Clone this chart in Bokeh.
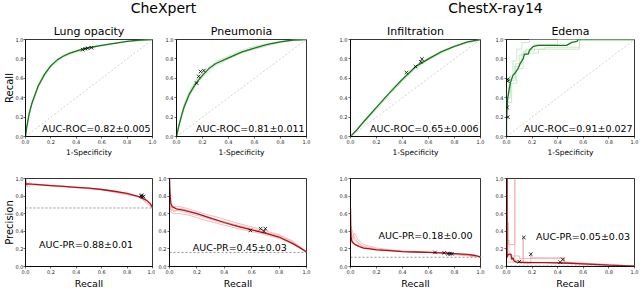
from bokeh.plotting import figure
from bokeh.layouts import column, row
from bokeh.models import Range1d, FixedTicker, PrintfTickFormatter, Slope, Span
from bokeh.core.properties import value
from bokeh.embed import file_html
from bokeh.resources import INLINE

FONT = "DejaVu Sans"

# ---------------- data ----------------
group_titles = ["CheXpert", "ChestX-ray14"]
panel_titles = ["Lung opacity", "Pneumonia", "Infiltration", "Edema"]
roc_labels = ["AUC-ROC=0.82\u00b10.005", "AUC-ROC=0.81\u00b10.011",
              "AUC-ROC=0.65\u00b10.006", "AUC-ROC=0.91\u00b10.027"]
pr_labels = ["AUC-PR=0.88\u00b10.01", "AUC-PR=0.45\u00b10.03",
             "AUC-PR=0.18\u00b10.00", "AUC-PR=0.05\u00b10.03"]
ticks = [0.0, 0.2, 0.4, 0.6, 0.8, 1.0]
prevalence = [0.665, 0.16, 0.105, 0.005]

# Lung opacity ROC
lung_roc_fpr = [0, 0.01, 0.03, 0.05, 0.1, 0.15, 0.2, 0.25, 0.3, 0.35, 0.4, 0.45, 0.5, 0.6, 0.7, 0.8, 0.9, 1.0]
lung_roc_tpr = [0, 0.1, 0.24, 0.34, 0.52, 0.64, 0.73, 0.79, 0.83, 0.86, 0.88, 0.9, 0.915, 0.94, 0.96, 0.98, 0.995, 1.0]
lung_roc_runs_fpr = [[0, 0.01, 0.03, 0.05, 0.1, 0.15, 0.2, 0.3, 0.4, 0.5, 0.6, 0.8, 1.0],
                     [0, 0.01, 0.03, 0.05, 0.1, 0.15, 0.2, 0.3, 0.4, 0.5, 0.6, 0.8, 1.0]]
lung_roc_runs_tpr = [[0, 0.11, 0.25, 0.35, 0.535, 0.655, 0.74, 0.84, 0.89, 0.92, 0.944, 0.982, 1.0],
                     [0, 0.09, 0.23, 0.33, 0.505, 0.625, 0.72, 0.82, 0.872, 0.91, 0.936, 0.977, 1.0]]
lung_roc_mk_fpr = [0.45, 0.47, 0.49, 0.52]
lung_roc_mk_tpr = [0.895, 0.905, 0.91, 0.915]

# Pneumonia ROC
pneu_roc_fpr = [0, 0.01, 0.02, 0.04, 0.06, 0.1, 0.15, 0.2, 0.25, 0.3, 0.4, 0.5, 0.6, 0.7, 0.8, 0.9, 1.0]
pneu_roc_tpr = [0, 0.06, 0.12, 0.22, 0.31, 0.44, 0.55, 0.63, 0.70, 0.75, 0.81, 0.87, 0.91, 0.95, 0.975, 0.995, 1.0]
pneu_roc_runs_fpr = [[0, 0.02, 0.06, 0.1, 0.15, 0.2, 0.3, 0.4, 0.5, 0.6, 0.8, 0.9, 1.0],
                     [0, 0.02, 0.06, 0.1, 0.15, 0.2, 0.3, 0.4, 0.5, 0.6, 0.8, 0.9, 1.0],
                     [0, 0.02, 0.06, 0.1, 0.15, 0.2, 0.3, 0.4, 0.5, 0.6, 0.8, 0.9, 1.0]]
pneu_roc_runs_tpr = [[0, 0.14, 0.34, 0.47, 0.58, 0.66, 0.77, 0.83, 0.89, 0.93, 0.98, 0.995, 1.0],
                     [0, 0.11, 0.29, 0.42, 0.53, 0.61, 0.73, 0.80, 0.86, 0.9, 0.97, 0.99, 1.0],
                     [0, 0.13, 0.32, 0.45, 0.57, 0.64, 0.76, 0.815, 0.875, 0.92, 0.978, 0.995, 1.0]]
pneu_roc_mk_fpr = [0.155, 0.17, 0.185, 0.21]
pneu_roc_mk_tpr = [0.55, 0.62, 0.67, 0.68]

# Infiltration ROC
infl_roc_fpr = [0, 0.05, 0.1, 0.2, 0.3, 0.4, 0.5, 0.6, 0.7, 0.8, 0.9, 1.0]
infl_roc_tpr = [0, 0.07, 0.15, 0.30, 0.45, 0.59, 0.72, 0.80, 0.875, 0.93, 0.975, 1.0]
infl_roc_runs_fpr = [[0, 0.1, 0.2, 0.3, 0.4, 0.5, 0.6, 0.8, 1.0],
                     [0, 0.1, 0.2, 0.3, 0.4, 0.5, 0.6, 0.8, 1.0]]
infl_roc_runs_tpr = [[0, 0.14, 0.28, 0.43, 0.57, 0.70, 0.79, 0.925, 1.0],
                     [0, 0.16, 0.31, 0.46, 0.60, 0.725, 0.81, 0.935, 1.0]]
infl_roc_mk_fpr = [0.43, 0.5, 0.54, 0.55]
infl_roc_mk_tpr = [0.66, 0.72, 0.77, 0.80]

# Edema ROC
edem_roc_fpr = [0, 0, 0.005, 0.01, 0.02, 0.03, 0.05, 0.07, 0.09, 0.11, 0.13, 0.14, 0.17, 0.18, 0.21, 0.25, 0.47, 0.51, 0.55, 0.56, 1.0]
edem_roc_tpr = [0, 0.15, 0.3, 0.4, 0.48, 0.55, 0.63, 0.66, 0.70, 0.76, 0.80, 0.85, 0.85, 0.89, 0.93, 0.94, 0.94, 0.97, 0.98, 1.0, 1.0]
edem_roc_runs_fpr = [[0, 0, 0.02, 0.02, 0.05, 0.05, 0.08, 0.08, 0.12, 0.12, 0.18, 0.18, 1.0],
                     [0, 0, 0.03, 0.03, 0.06, 0.06, 0.1, 0.1, 0.15, 0.15, 0.3, 0.3, 0.57, 0.57, 1.0],
                     [0, 0, 0.04, 0.04, 0.08, 0.08, 0.13, 0.13, 0.22, 0.22, 0.4, 0.4, 1.0],
                     [0, 0, 0.03, 0.03, 0.07, 0.07, 0.12, 0.12, 0.25, 0.25, 0.57, 0.57, 1.0]]
edem_roc_runs_tpr = [[0, 0.5, 0.5, 0.62, 0.62, 0.78, 0.78, 0.9, 0.9, 0.97, 0.97, 1.0, 1.0],
                     [0, 0.45, 0.45, 0.6, 0.6, 0.72, 0.72, 0.84, 0.84, 0.9, 0.9, 0.92, 0.92, 1.0, 1.0],
                     [0, 0.35, 0.35, 0.55, 0.55, 0.7, 0.7, 0.88, 0.88, 0.95, 0.95, 1.0, 1.0],
                     [0, 0.4, 0.4, 0.58, 0.58, 0.75, 0.75, 0.86, 0.86, 0.9, 0.9, 1.0, 1.0]]
edem_roc_mk_fpr = [0.01, 0.01, 0.005, 0.01]
edem_roc_mk_tpr = [0.57, 0.59, 0.30, 0.20]

# Lung opacity PR
lung_pr_rec = [0, 0.003, 0.01, 0.05, 0.1, 0.2, 0.3, 0.4, 0.5, 0.6, 0.7, 0.8, 0.85, 0.9, 0.95, 0.98, 1.0]
lung_pr_prec = [0.99, 0.93, 0.94, 0.935, 0.93, 0.92, 0.91, 0.9, 0.89, 0.875, 0.855, 0.83, 0.81, 0.79, 0.755, 0.72, 0.67]
lung_pr_runs_rec = [[0, 0.01, 0.03, 0.06, 0.1, 0.3, 0.6, 0.9, 1.0],
                    [0, 0.01, 0.02, 0.05, 0.1, 0.3, 0.6, 0.9, 1.0]]
lung_pr_runs_prec = [[0.9, 0.91, 0.95, 0.94, 0.935, 0.913, 0.878, 0.792, 0.67],
                     [0.96, 0.92, 0.9, 0.93, 0.925, 0.905, 0.871, 0.787, 0.665]]
lung_pr_mk_rec = [0.91, 0.92, 0.93, 0.915]
lung_pr_mk_prec = [0.80, 0.79, 0.795, 0.81]

# Pneumonia PR
pneu_pr_rec = [0, 0.002, 0.005, 0.01, 0.02, 0.05, 0.1, 0.2, 0.3, 0.4, 0.5, 0.6, 0.7, 0.8, 0.9, 0.95, 1.0]
pneu_pr_prec = [1.0, 0.9, 0.8, 0.72, 0.68, 0.655, 0.64, 0.6, 0.55, 0.5, 0.455, 0.415, 0.38, 0.335, 0.26, 0.215, 0.165]
pneu_pr_runs_rec = [[0, 0.01, 0.03, 0.08, 0.15, 0.25, 0.35, 0.5, 0.65, 0.8, 0.9, 1.0],
                    [0, 0.01, 0.03, 0.08, 0.15, 0.25, 0.35, 0.5, 0.65, 0.8, 0.9, 1.0],
                    [0, 0.01, 0.03, 0.08, 0.15, 0.25, 0.35, 0.5, 0.65, 0.8, 0.9, 1.0],
                    [0, 0.01, 0.03, 0.08, 0.15, 0.25, 0.35, 0.5, 0.65, 0.8, 0.9, 1.0]]
pneu_pr_runs_prec = [[0.85, 0.7, 0.62, 0.66, 0.63, 0.58, 0.53, 0.47, 0.41, 0.35, 0.28, 0.17],
                     [0.75, 0.62, 0.6, 0.6, 0.58, 0.53, 0.49, 0.43, 0.38, 0.32, 0.26, 0.165],
                     [0.9, 0.66, 0.68, 0.68, 0.65, 0.6, 0.56, 0.49, 0.43, 0.36, 0.29, 0.17],
                     [0.7, 0.64, 0.64, 0.63, 0.6, 0.56, 0.51, 0.45, 0.40, 0.33, 0.27, 0.165]]
pneu_pr_mk_rec = [0.59, 0.665, 0.70, 0.69]
pneu_pr_mk_prec = [0.41, 0.43, 0.43, 0.40]

# Infiltration PR
infl_pr_rec = [0, 0.002, 0.005, 0.01, 0.02, 0.04, 0.07, 0.1, 0.15, 0.2, 0.3, 0.4, 0.5, 0.6, 0.7, 0.8, 0.9, 0.95, 1.0]
infl_pr_prec = [0.66, 0.45, 0.33, 0.29, 0.27, 0.245, 0.225, 0.21, 0.2, 0.19, 0.18, 0.17, 0.165, 0.16, 0.155, 0.147, 0.137, 0.128, 0.11]
infl_pr_runs_rec = [[0, 0.01, 0.03, 0.06, 0.1, 0.2, 0.4, 0.7, 1.0],
                    [0, 0.01, 0.03, 0.06, 0.1, 0.2, 0.4, 0.7, 1.0],
                    [0, 0.01, 0.03, 0.06, 0.1, 0.2, 0.4, 0.7, 1.0],
                    [0, 0.01, 0.03, 0.06, 0.1, 0.2, 0.4, 0.7, 1.0]]
infl_pr_runs_prec = [[0.48, 0.42, 0.33, 0.27, 0.23, 0.2, 0.172, 0.157, 0.11],
                     [0.4, 0.36, 0.3, 0.26, 0.22, 0.195, 0.17, 0.155, 0.11],
                     [0.25, 0.3, 0.38, 0.3, 0.25, 0.21, 0.175, 0.158, 0.11],
                     [0.35, 0.27, 0.25, 0.23, 0.21, 0.19, 0.168, 0.153, 0.11]]
infl_pr_mk_rec = [0.65, 0.72, 0.75, 0.765, 0.78]
infl_pr_mk_prec = [0.16, 0.155, 0.145, 0.145, 0.145]

# Edema PR
edem_pr_rec = [0, 0.005, 0.005, 0.01, 0.02, 0.035, 0.04, 0.05, 0.06, 0.08, 0.15, 0.3, 0.45, 0.6, 0.8, 1.0]
edem_pr_prec = [1.0, 1.0, 0.1, 0.13, 0.14, 0.14, 0.08, 0.1, 0.06, 0.05, 0.045, 0.045, 0.04, 0.03, 0.015, 0.005]
edem_pr_runs_rec = [[0, 0.015, 0.015, 0.065, 0.065, 0.065, 0.1, 0.2, 0.4, 0.6, 1.0],
                    [0, 0.13, 0.13, 0.13, 0.19, 0.19, 0.19, 0.45, 0.45, 1.0],
                    [0, 0.02, 0.02, 0.1, 0.1, 0.45, 0.45, 0.7, 1.0]]
edem_pr_runs_prec = [[0.5, 0.5, 0.25, 0.25, 1.0, 0.07, 0.06, 0.05, 0.04, 0.025, 0.005],
                     [0.05, 0.05, 0.33, 0.04, 0.04, 0.14, 0.1, 0.1, 0.05, 0.005],
                     [0.3, 0.3, 0.12, 0.12, 0.09, 0.09, 0.05, 0.03, 0.005]]
edem_pr_mk_rec = [0.135, 0.19, 0.1, 0.42, 0.44]
edem_pr_mk_prec = [0.33, 0.14, 0.055, 0.05, 0.08]

roc_sets = [
    (lung_roc_fpr, lung_roc_tpr, lung_roc_runs_fpr, lung_roc_runs_tpr, lung_roc_mk_fpr, lung_roc_mk_tpr),
    (pneu_roc_fpr, pneu_roc_tpr, pneu_roc_runs_fpr, pneu_roc_runs_tpr, pneu_roc_mk_fpr, pneu_roc_mk_tpr),
    (infl_roc_fpr, infl_roc_tpr, infl_roc_runs_fpr, infl_roc_runs_tpr, infl_roc_mk_fpr, infl_roc_mk_tpr),
    (edem_roc_fpr, edem_roc_tpr, edem_roc_runs_fpr, edem_roc_runs_tpr, edem_roc_mk_fpr, edem_roc_mk_tpr),
]
pr_sets = [
    (lung_pr_rec, lung_pr_prec, lung_pr_runs_rec, lung_pr_runs_prec, lung_pr_mk_rec, lung_pr_mk_prec),
    (pneu_pr_rec, pneu_pr_prec, pneu_pr_runs_rec, pneu_pr_runs_prec, pneu_pr_mk_rec, pneu_pr_mk_prec),
    (infl_pr_rec, infl_pr_prec, infl_pr_runs_rec, infl_pr_runs_prec, infl_pr_mk_rec, infl_pr_mk_prec),
    (edem_pr_rec, edem_pr_prec, edem_pr_runs_rec, edem_pr_runs_prec, edem_pr_mk_rec, edem_pr_mk_prec),
]

# ---------------- layout / style ----------------
ROC_MAIN, ROC_LIGHT = "#16781a", "#bfe3bf"
PR_MAIN, PR_LIGHT = "#b0121a", "#f2a6a6"

TOTAL_W = 640
TITLE_H = 18
row1_w = [157, 157, 171, 155]
row1_borders = [(21, 5), (19, 8), (36, 5), (21, 6)]
row1_h, row1_top, row1_bot = 142, 21, 24
row2_w = [155, 159, 171, 155]
row2_borders = [(21, 3), (11, 8), (36, 5), (21, 6)]
row2_h = 131
row2_top = [14, 17, 18, 18]
row2_bot = [19, 18, 18, 18]
label_pos_roc = (0.985, 0.08)
label_pos_pr = [(0.107, 0.245), (0.17, 0.22), (0.215, 0.35), (0.23, 0.34)]


def style(p):
    p.toolbar_location = None
    p.grid.visible = False
    p.outline_line_color = "black"
    p.outline_line_width = 0.8
    p.background_fill_color = "white"
    p.border_fill_color = "white"
    for ax in (p.xaxis[0], p.yaxis[0]):
        ax.ticker = FixedTicker(ticks=ticks)
        ax.formatter = PrintfTickFormatter(format="%.1f")
        ax.axis_line_color = "black"
        ax.axis_line_width = 0.8
        ax.major_tick_out = 2
        ax.major_tick_in = 0
        ax.minor_tick_out = 0
        ax.minor_tick_in = 0
        ax.major_tick_line_width = 0.6
        ax.major_label_text_font = FONT
        ax.major_label_text_font_size = "5px"
        ax.major_label_text_color = "#222222"
        ax.major_label_standoff = 1
        ax.axis_label_text_font = FONT
        ax.axis_label_text_font_style = "normal"
        ax.axis_label_standoff = 1
        ax.axis_label_text_color = "black"


def make_fig(width, height, borders, top, bottom):
    p = figure(width=width, height=height, output_backend="svg", toolbar_location=None,
               x_range=Range1d(0, 1), y_range=Range1d(0, 1),
               min_border_left=borders[0], min_border_right=borders[1],
               min_border_top=top, min_border_bottom=bottom)
    style(p)
    return p


# title strip
tf = figure(width=TOTAL_W, height=TITLE_H, output_backend="svg", toolbar_location=None,
            x_range=Range1d(0, TOTAL_W), y_range=Range1d(0, TITLE_H),
            min_border=0)
tf.axis.visible = False
tf.grid.visible = False
tf.outline_line_color = None
tf.text(x=[163, 495], y=[11, 11], text=group_titles, text_align="center", text_baseline="middle",
        text_font=value(FONT), text_font_size="14px", text_color="black")

row1 = []
for i in range(4):
    fpr, tpr, rf, rt, mf, mt = roc_sets[i]
    p = make_fig(row1_w[i], row1_h, row1_borders[i], row1_top, row1_bot)
    p.title.text = panel_titles[i]
    p.title.align = "center"
    p.title.text_font = FONT
    p.title.text_font_size = "11px"
    p.title.text_font_style = "normal"
    p.title.text_color = "black"
    p.title.standoff = 3
    p.add_layout(Slope(gradient=1, y_intercept=0, line_color="#b0b0b0",
                       line_width=0.6, line_dash="2 2"))
    for xs, ys in zip(rf, rt):
        p.line(xs, ys, line_color=ROC_LIGHT, line_width=1, line_alpha=0.8)
    p.line(fpr, tpr, line_color=ROC_MAIN, line_width=1.3)
    p.scatter(mf, mt, marker="x", size=5, line_color="black", line_width=0.8)
    p.text(x=[label_pos_roc[0]], y=[label_pos_roc[1]], text=[roc_labels[i]],
           text_align="right", text_baseline="middle",
           text_font=value(FONT), text_font_size="9.5px", text_color="black")
    p.xaxis.axis_label = "1-Specificity"
    p.xaxis.axis_label_text_font_size = "7.5px"
    if i == 0:
        p.yaxis.axis_label = "Recall"
        p.yaxis.axis_label_text_font_size = "10px"
        p.yaxis.axis_label_standoff = -2
        p.yaxis.major_label_standoff = 0
    row1.append(p)

row2 = []
for i in range(4):
    rec, prec, rr, rp, mr, mp = pr_sets[i]
    p = make_fig(row2_w[i], row2_h, row2_borders[i], row2_top[i], row2_bot[i])
    p.add_layout(Span(location=prevalence[i], dimension="width", line_color="#666666",
                      line_width=0.7, line_dash="2 2"))
    for xs, ys in zip(rr, rp):
        p.line(xs, ys, line_color=PR_LIGHT, line_width=1, line_alpha=0.75)
    p.line(rec, prec, line_color=PR_MAIN, line_width=1.3)
    p.scatter(mr, mp, marker="x", size=5, line_color="black", line_width=0.8)
    p.text(x=[label_pos_pr[i][0]], y=[label_pos_pr[i][1]], text=[pr_labels[i]],
           text_align="left", text_baseline="middle",
           text_font=value(FONT), text_font_size="9.5px", text_color="black")
    p.xaxis.axis_label = "Recall"
    p.xaxis.axis_label_text_font_size = "9.5px"
    if i == 0:
        p.yaxis.axis_label = "Precision"
        p.yaxis.axis_label_text_font_size = "10px"
        p.yaxis.axis_label_standoff = -2
        p.yaxis.major_label_standoff = 0
    row2.append(p)

layout = column(tf, row(*row1, spacing=0), row(*row2, spacing=0), spacing=0)
open("out.html", "w").write(file_html(layout, INLINE))
